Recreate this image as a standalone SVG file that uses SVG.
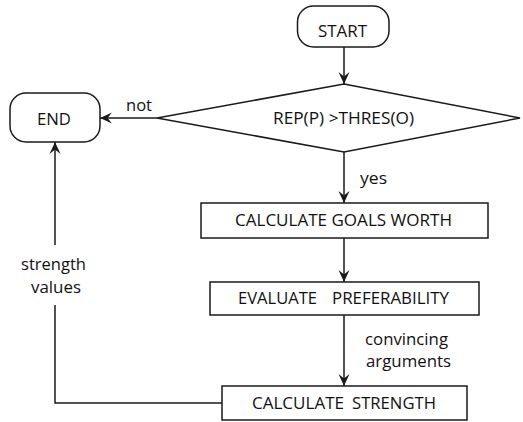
<svg xmlns="http://www.w3.org/2000/svg" width="523" height="422" viewBox="0 0 523 422">
  <defs>
    <style>
      .shape { fill: #ffffff; stroke: #1a1a1a; stroke-width: 1.5; }
      .edge { fill: none; stroke: #1a1a1a; stroke-width: 1.5; }
      text { font-family: "Open Sans", "Liberation Sans", sans-serif; fill: #111111; }
      .node { font-size: 17px; text-anchor: middle; }
      .lbl { font-size: 17px; text-anchor: middle; }
    </style>
    <marker id="arrow" viewBox="0 0 12 12" refX="12" refY="6" markerWidth="12" markerHeight="12" markerUnits="userSpaceOnUse" orient="auto">
      <path d="M0,0.5 L12,6 L0,11.5 L4.5,6 Z" fill="#1a1a1a"/>
    </marker>
  </defs>

  <g id="connectors">
    <line class="edge" x1="344" y1="47" x2="344" y2="84" marker-end="url(#arrow)"/>
    <line class="edge" x1="157" y1="118" x2="100" y2="118" marker-end="url(#arrow)"/>
    <line class="edge" x1="344" y1="152" x2="344" y2="203" marker-end="url(#arrow)"/>
    <line class="edge" x1="344" y1="238" x2="344" y2="282" marker-end="url(#arrow)"/>
    <line class="edge" x1="344" y1="315" x2="344" y2="386" marker-end="url(#arrow)"/>
    <polyline class="edge" points="222,403 55,403 55,305"/>
    <line class="edge" x1="55" y1="245" x2="55" y2="142" marker-end="url(#arrow)"/>
    <text class="lbl" x="139" y="111" textLength="26" lengthAdjust="spacingAndGlyphs">not</text>
    <text class="lbl" x="373.5" y="184" textLength="27" lengthAdjust="spacingAndGlyphs">yes</text>
    <text class="lbl" x="406.5" y="345" textLength="83" lengthAdjust="spacingAndGlyphs">convincing</text>
    <text class="lbl" x="408.5" y="367" textLength="85" lengthAdjust="spacingAndGlyphs">arguments</text>
    <text class="lbl" x="53.5" y="270" textLength="65" lengthAdjust="spacingAndGlyphs">strength</text>
    <text class="lbl" x="56" y="293" textLength="50" lengthAdjust="spacingAndGlyphs">values</text>
  </g>

  <g id="start">
    <rect class="shape" x="297.5" y="6" width="91.5" height="41" rx="16" ry="16"/>
    <text class="node" x="342.5" y="37" textLength="49" lengthAdjust="spacingAndGlyphs">START</text>
  </g>

  <g id="end">
    <rect class="shape" x="10" y="93" width="90" height="49" rx="16" ry="16"/>
    <text class="node" x="54" y="125" textLength="34" lengthAdjust="spacingAndGlyphs">END</text>
  </g>

  <g id="decision">
    <polygon class="shape" points="344,84 520,118 344,152 157,118"/>
    <text class="node" x="343.5" y="124" textLength="141" lengthAdjust="spacingAndGlyphs">REP(P) &gt;THRES(O)</text>
  </g>

  <g id="goals-worth">
    <rect class="shape" x="201" y="203" width="287" height="35"/>
    <text class="node" x="343.5" y="226" textLength="217" lengthAdjust="spacingAndGlyphs">CALCULATE GOALS WORTH</text>
  </g>

  <g id="preferability">
    <rect class="shape" x="210" y="282" width="269" height="33"/>
    <text class="node" x="277.5" y="304" textLength="79" lengthAdjust="spacingAndGlyphs">EVALUATE</text>
    <text class="node" x="390.5" y="304" textLength="117" lengthAdjust="spacingAndGlyphs">PREFERABILITY</text>
  </g>

  <g id="strength">
    <rect class="shape" x="222" y="386" width="245" height="34"/>
    <text class="node" x="298" y="409" textLength="92" lengthAdjust="spacingAndGlyphs">CALCULATE</text>
    <text class="node" x="394" y="409" textLength="84" lengthAdjust="spacingAndGlyphs">STRENGTH</text>
  </g>
</svg>
